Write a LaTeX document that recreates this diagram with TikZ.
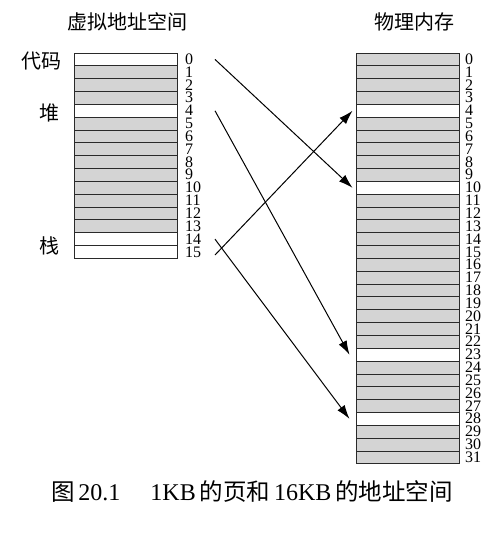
\documentclass[tikz,border=0pt]{standalone}
\usepackage{fontspec}
\setmainfont{Liberation Serif}
\newfontfamily\cjk{Noto Sans CJK SC}
\usetikzlibrary{arrows.meta,positioning}
\definecolor{pg}{HTML}{D4D4D4}
\definecolor{ln}{HTML}{2A2A2A}
\newcommand{\lat}[1]{{\fontsize{24}{24}\rmfamily #1}}

\begin{document}
\begin{tikzpicture}[x=1pt,y=-1pt,
  page/.style={draw=ln,line width=0.9pt,fill=pg,minimum width=103pt,minimum height=12.84pt,inner sep=0pt,outer sep=0pt},
  vused0/.style={fill=white},vused4/.style={fill=white},
  vused14/.style={fill=white},vused15/.style={fill=white},
  pused4/.style={fill=white},pused10/.style={fill=white},
  pused23/.style={fill=white},pused28/.style={fill=white},
  num/.style={font=\fontsize{16}{16}\selectfont,inner sep=0pt,anchor=west,text height=10pt,text depth=0pt},
  lab/.style={font=\fontsize{20}{20}\selectfont\cjk,inner sep=0pt},
  map/.style={line width=1pt,-{Latex[length=14pt,width=9pt]}}]
\useasboundingbox (0,0) rectangle (488,536);

\node[lab] (vtitle) at (127,21.5) {虚拟地址空间};
\node[lab] (ptitle) at (414,21.5) {物理内存};

% virtual address space, 16 pages
\foreach \i in {0,...,15}{
  \node[page,vused\i/.try] (v\i) at (125.5,{59.4+12.84*\i}) {};
  \node[num] (vn\i) at (185,{59.4+12.84*\i}) {\i};
}
% physical memory, 32 frames
\foreach \i in {0,...,31}{
  \node[page,pused\i/.try] (p\i) at (408,{59.4+12.84*\i}) {};
  \node[num] (pn\i) at (465,{59.4+12.84*\i}) {\i};
}

\node[lab,anchor=east] (code) at (62,61) {代码};
\node[lab,anchor=east] (heap) at (60,113) {堆};
\node[lab,anchor=east] (stack) at (60,246) {栈};

\draw[map] ([xshift=38pt]v0.east) -- ([xshift=-4pt]p10.west);
\draw[map] ([xshift=38pt]v4.east) -- ([xshift=-7pt]p23.west);
\draw[map] ([xshift=38pt]v14.east) -- ([xshift=-7pt]p28.west);
\draw[map] ([xshift=38pt,yshift=-3pt]v15.east) -- ([xshift=-4pt]p4.west);

\node[lab,font=\fontsize{23.5}{24}\selectfont\cjk] (caption) at (252,492)
  {图\,\lat{20.1}\hspace{30pt}\lat{1KB}\,的页和\,\lat{16KB}\,的地址空间};
\end{tikzpicture}
\end{document}
